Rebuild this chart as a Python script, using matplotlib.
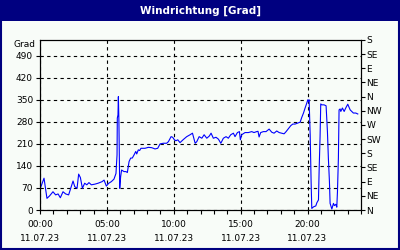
import numpy as np
import matplotlib.pyplot as plt
from matplotlib.patches import Rectangle

# Daten (Stunden seit 00:00, Windrichtung in Grad)
hours = [0.0, 0.3, 0.52, 0.72, 0.97, 1.17, 1.35, 1.52, 1.72, 1.92, 2.14, 2.3, 2.47, 2.6, 2.77,
         2.89, 3.02, 3.17, 3.34, 3.5, 3.66, 3.84, 4.09, 4.34, 4.64, 4.79, 4.96, 5.14, 5.33, 5.53,
         5.68, 5.76, 5.78, 5.83, 5.86, 5.9, 5.96, 6.03, 6.1, 6.28, 6.43, 6.53, 6.66, 6.78, 6.9,
         7.03, 7.16, 7.23, 7.35, 7.45, 7.55, 7.85, 8.1, 8.35, 8.6, 8.8, 8.98, 9.22, 9.47, 9.6,
         9.8, 9.92, 10.05, 10.17, 10.3, 10.47, 10.72, 10.97, 11.22, 11.4, 11.6, 11.72, 11.9, 12.1,
         12.27, 12.47, 12.66, 12.79, 12.96, 13.16, 13.34, 13.52, 13.71, 13.91, 14.08, 14.26, 14.46,
         14.58, 14.76, 14.91, 14.98, 15.08, 15.33, 15.58, 15.83, 16.0, 16.2, 16.3, 16.38, 16.5,
         16.7, 16.9, 17.13, 17.33, 17.5, 17.7, 17.88, 18.08, 18.25, 18.4, 18.57, 18.75, 18.9,
         19.07, 19.27, 19.45, 19.57, 19.7, 19.82, 19.95, 20.02, 20.07, 20.12, 20.2, 20.27, 20.32,
         20.45, 20.62, 20.7, 20.82, 20.87, 20.94, 20.99, 21.07, 21.24, 21.39, 21.49, 21.56, 21.64,
         21.69, 21.82, 21.94, 22.01, 22.12, 22.19, 22.24, 22.31, 22.36, 22.44, 22.49, 22.61, 22.74,
         22.86, 23.01, 23.19, 23.31, 23.43, 23.61, 23.76]
grad = [66, 101, 37, 45, 58, 48, 51, 39, 58, 51, 48, 69, 92, 74, 69,
        114, 103, 69, 85, 80, 87, 80, 82, 85, 90, 95, 76, 85, 90, 98,
        116, 175, 292, 302, 360, 281, 69, 106, 127, 122, 122, 119, 154, 165, 165,
        175, 186, 178, 191, 189, 196, 196, 199, 198, 194, 196, 210, 212, 212, 217,
        233, 231, 223, 220, 223, 214, 224, 233, 239, 244, 212, 217, 233, 228,
        239, 228, 235, 244, 228, 231, 225, 212, 228, 233, 228, 239, 244,
        233, 246, 249, 223, 239, 246, 246, 249, 246, 249, 250, 232, 246,
        249, 249, 257, 247, 244, 251, 246, 244, 242, 249, 258, 268, 273,
        273, 276, 279, 294, 308, 324, 340, 350, 345, 350, 239, 90, 5,
        10, 13, 23, 32, 127, 233, 337, 334, 334, 331, 249, 165, 90,
        21, 3, 21, 14, 18, 9, 58, 165, 318, 321, 313, 324, 313,
        324, 336, 318, 313, 308, 308, 305]

left_ticks = [0, 70, 140, 210, 280, 350, 420, 490]
right_ticks = [0, 45, 90, 135, 180, 225, 270, 315, 360, 405, 450, 495, 540]
right_labels = ['N', 'NE', 'E', 'SE', 'S', 'SW', 'W', 'NW', 'N', 'NE', 'E', 'SE', 'S']
x_ticks = [0, 5, 10, 15, 20]
x_labels = ['00:00\n11.07.23', '05:00\n11.07.23', '10:00\n11.07.23',
            '15:00\n11.07.23', '20:00\n11.07.23']

navy = '#000080'
bg = '#F8FCF8'
fs = 6.5

fig = plt.figure(figsize=(4, 2.5), dpi=100)
fig.patch.set_facecolor(bg)

# Titelleiste und Rahmen
fig.patches.append(Rectangle((0, 0.918), 1, 0.082, transform=fig.transFigure,
                             facecolor=navy, edgecolor='none', zorder=0))
fig.patches.append(Rectangle((0.002, 0.004), 0.995, 0.99, transform=fig.transFigure,
                             facecolor='none', edgecolor=navy, linewidth=1.5, zorder=5))
fig.text(0.5, 0.958, 'Windrichtung [Grad]', color='white', fontsize=7.5,
         fontweight='bold', ha='center', va='center')

ax = fig.add_axes([0.1, 0.16, 0.8025, 0.68])
ax.set_facecolor(bg)
ax.plot(hours, grad, color='#0000FF', linewidth=0.8)

ax.set_xlim(0, 24)
ax.set_ylim(0, 540)
ax.set_yticks(left_ticks)
ax.set_xticks(x_ticks)
ax.set_xticklabels(x_labels, linespacing=1.7)
ax.set_xticks(np.arange(0, 25, 1), minor=True)
ax.tick_params(axis='both', which='both', direction='out', length=3, width=0.8,
               labelsize=fs, pad=2, colors='black')
ax.tick_params(axis='x', which='major', pad=4)
ax.grid(True, which='major', color='black', linestyle=(0, (3, 3)), linewidth=0.8)
for s in ax.spines.values():
    s.set_linewidth(0.8)

ax2 = ax.twinx()
ax2.set_ylim(0, 540)
ax2.set_yticks(right_ticks)
ax2.set_yticklabels(right_labels)
ax2.tick_params(axis='y', direction='out', length=3, width=0.8, labelsize=fs, pad=1)

fig.text(0.088, 0.822, 'Grad', fontsize=fs, ha='right', va='center')

fig.savefig('out.png', dpi=100, facecolor=bg)
